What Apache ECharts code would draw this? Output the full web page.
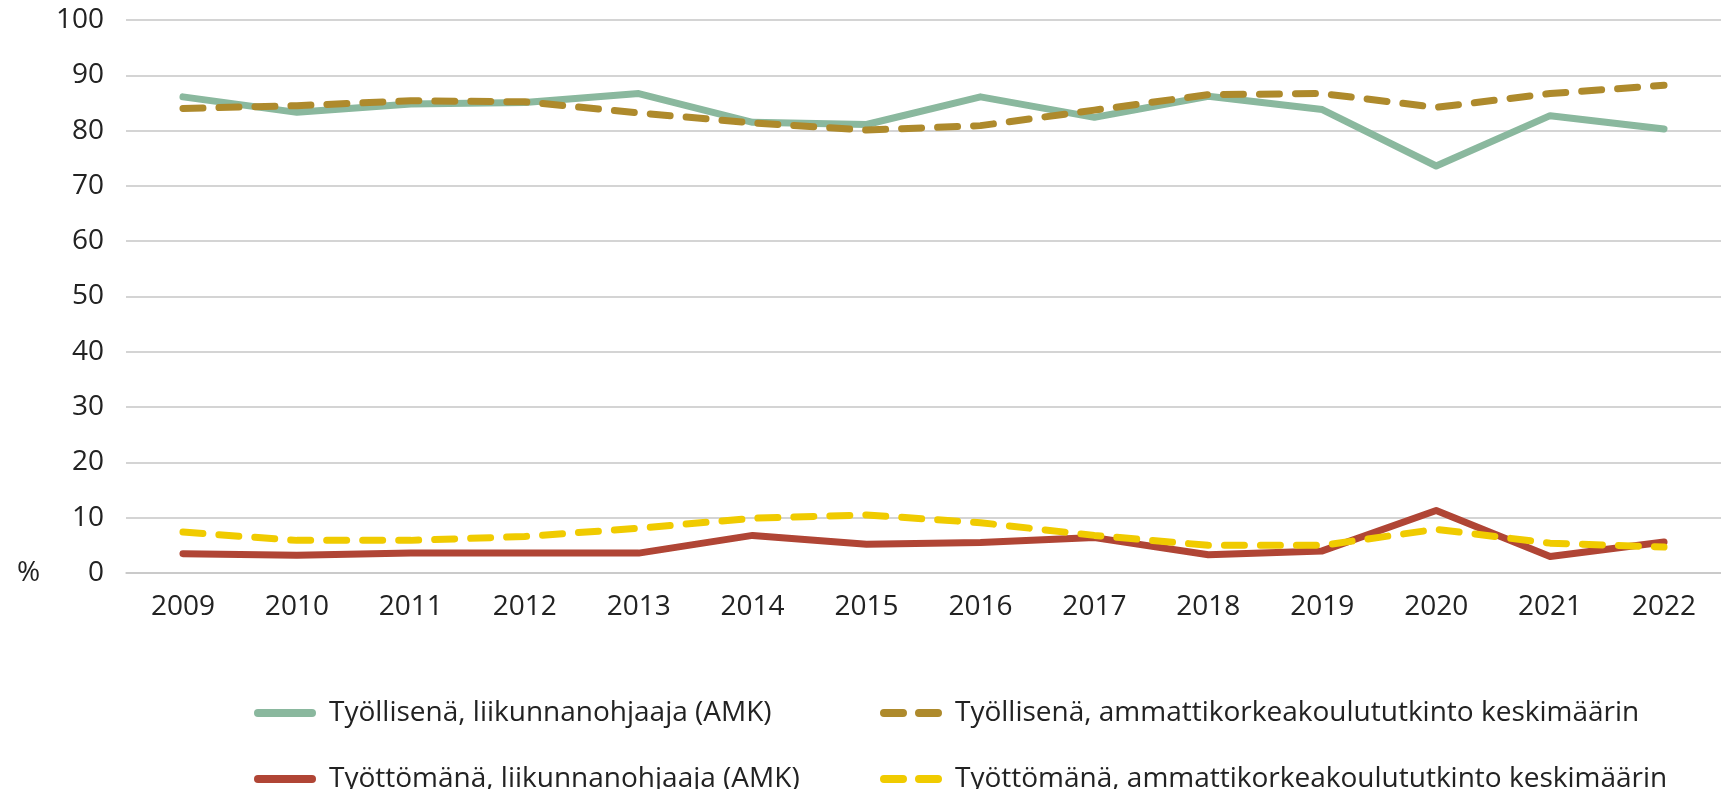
<!DOCTYPE html>
<html><head><meta charset="utf-8">
<script src="https://cdn.jsdelivr.net/npm/echarts@6/dist/echarts.min.js"></script>
<style>html,body{margin:0;padding:0;background:#fff}#c{width:1721px;height:789px}</style>
</head><body><div id="c"></div>
<script>
const years = ['2009','2010','2011','2012','2013','2014','2015','2016','2017','2018','2019','2020','2021','2022'];
const yTicks = [0,10,20,30,40,50,60,70,80,90,100];
const employedPE = [86.1,83.3,84.8,85.1,86.7,81.5,81.1,86.1,82.4,86.2,83.8,73.6,82.7,80.3];
const employedAvg = [84.0,84.5,85.4,85.2,83.2,81.4,80.1,80.9,83.7,86.5,86.7,84.2,86.7,88.2];
const unemployedPE = [3.5,3.2,3.6,3.6,3.6,6.8,5.2,5.5,6.4,3.3,4.0,11.3,3.0,5.6];
const unemployedAvg = [7.4,5.9,5.9,6.6,8.1,9.9,10.5,9.1,6.8,5.0,5.0,7.9,5.4,4.7];
const names = ['Työllisenä, liikunnanohjaaja (AMK)','Työllisenä, ammattikorkeakoulututkinto keskimäärin','Työttömänä, liikunnanohjaaja (AMK)','Työttömänä, ammattikorkeakoulututkinto keskimäärin'];

const font = '"Open Sans", sans-serif';
const solidIcon = 'path://M4,0H58A4,4 0 0 1 58,8H4A4,4 0 0 1 4,0Z';
const dashIcon = 'path://M4,0H23A4,4 0 0 1 23,8H4A4,4 0 0 1 4,0Z M39,0H58A4,4 0 0 1 58,8H39A4,4 0 0 1 39,0Z';
const chart = echarts.init(document.getElementById('c'), null, {renderer:'canvas'});
function s(name, data, color, dashed){
  return {name, type:'line', data, symbol:'none', showSymbol:false, smooth:false,
    lineStyle:{color, width:7, type: dashed ? [20,16] : 'solid', cap:'round', join:'round'},
    itemStyle:{color}, emphasis:{disabled:true}};
}
const legText = {fontSize:28, fontFamily:font, color:'#222', lineHeight:24, padding:[0,0,0,8]};
function leg(name, icon, left, top){
  return {data:[{name, icon}], orient:'horizontal', left, top, padding:0,
    itemWidth:62, itemHeight:8, textStyle:legText, selectedMode:false};
}
chart.setOption({
  animation:false,
  grid:{left:126, right:0, top:20, bottom:216, containLabel:false},
  xAxis:{type:'category', data:years, boundaryGap:true,
    axisLine:{show:true, lineStyle:{color:'#c6c6c6', width:1.5}},
    axisTick:{show:false},
    axisLabel:{color:'#222', fontSize:28, fontFamily:font, margin:20}},
  yAxis:{type:'value', min:yTicks[0], max:yTicks[yTicks.length-1], interval:10,
    axisLine:{show:false}, axisTick:{show:false},
    splitLine:{lineStyle:{color:'#c6c6c6', width:1.5}},
    axisLabel:{color:'#222', fontSize:28, fontFamily:font, margin:22}},
  legend:[
    leg(names[0], solidIcon, 254, 699),
    leg(names[2], solidIcon, 254, 765),
    leg(names[1], dashIcon, 880, 699),
    leg(names[3], dashIcon, 880, 765)
  ],
  graphic:[{type:'text', left:17, top:559, style:{text:'%', fontSize:28, fontFamily:font, fill:'#222'}}],
  series:[
    s(names[0], employedPE, '#8ab89e', false),
    s(names[1], employedAvg, '#ae8a2c', true),
    s(names[2], unemployedPE, '#b04535', false),
    s(names[3], unemployedAvg, '#f0cb00', true)
  ]
});
</script></body></html>
